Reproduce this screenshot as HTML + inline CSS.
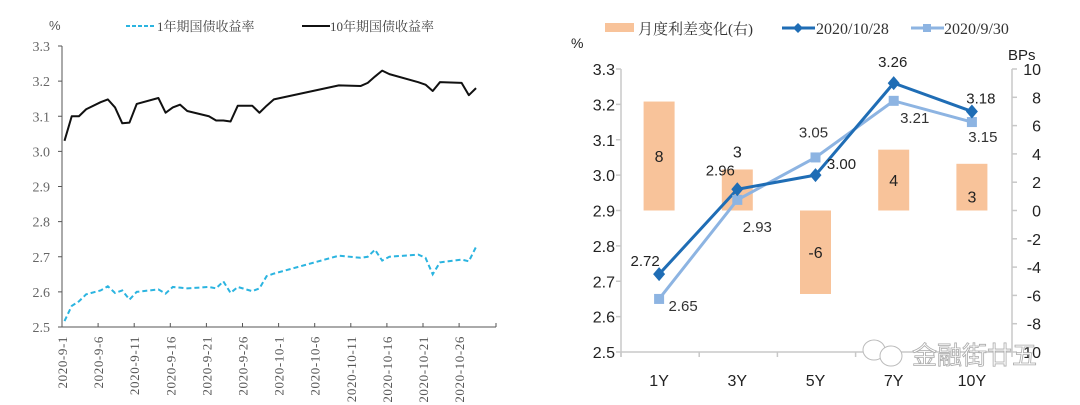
<!DOCTYPE html>
<html><head><meta charset="utf-8">
<style>
html,body{margin:0;padding:0;background:#fff;}
svg{display:block;}
</style></head>
<body>
<svg id="chart" width="1080" height="405" xmlns="http://www.w3.org/2000/svg">
<g id="left"></g>
<g id="right"></g>
</svg>
<script>
// ===== Left chart data =====
const leftDays = [0,1,2,3,5,6,7,8,9,10,13,14,15,16,17,20,21,22,23,24,26,27,28,29,38,41,42,43,44,45,49,50,51,52,55,56,57];
const yield10Y = [3.03,3.10,3.10,3.12,3.14,3.148,3.125,3.08,3.082,3.135,3.152,3.11,3.125,3.133,3.115,3.10,3.088,3.088,3.085,3.13,3.13,3.11,3.13,3.148,3.188,3.186,3.195,3.213,3.23,3.22,3.197,3.19,3.172,3.197,3.195,3.16,3.18];
const yield1Y = [2.517,2.56,2.573,2.593,2.604,2.616,2.597,2.604,2.578,2.600,2.607,2.595,2.614,2.612,2.61,2.614,2.61,2.63,2.597,2.614,2.602,2.61,2.645,2.652,2.703,2.697,2.70,2.72,2.689,2.70,2.706,2.697,2.65,2.684,2.692,2.687,2.728];
const leftYTicks = [2.5,2.6,2.7,2.8,2.9,3.0,3.1,3.2,3.3];
const leftDateLabels = ["2020-9-1","2020-9-6","2020-9-11","2020-9-16","2020-9-21","2020-9-26","2020-10-1","2020-10-6","2020-10-11","2020-10-16","2020-10-21","2020-10-26"];

// ===== Right chart data =====
const tenors = ["1Y","3Y","5Y","7Y","10Y"];
const curve1028 = [2.72,2.96,3.00,3.26,3.18];
const curve0930 = [2.65,2.93,3.05,3.21,3.15];
const spreadChange = [7.7,2.9,-5.9,4.3,3.3];
const spreadLabels = ["8","3","-6","4","3"];
const rightYTicks = [2.5,2.6,2.7,2.8,2.9,3.0,3.1,3.2,3.3];
const rightY2Ticks = [-10,-8,-6,-4,-2,0,2,4,6,8,10];

const NS = "http://www.w3.org/2000/svg";
function mk(parent, tag, attrs, text){
  const e = document.createElementNS(NS, tag);
  for (const k in attrs) e.setAttribute(k, attrs[k]);
  if (text !== undefined) e.textContent = text;
  parent.appendChild(e);
  return e;
}

// ---------- LEFT ----------
(function(){
  const g = document.getElementById('left');
  const X0 = 62, X1 = 496, YT = 46, YB = 327;
  const dayW = 7.22;
  const xd = d => X0 + 2.5 + d * dayW;
  const yv = v => YB - (v - 2.5) / 0.8 * (YB - YT);
  const serif = '"Liberation Serif","Noto Serif CJK SC",serif';

  let e = mk(g,'line',{x1:X0,y1:YT,x2:X0,y2:YB,stroke:'#555','stroke-width':1});
   
  e = mk(g,'line',{x1:X0,y1:YB,x2:X1,y2:YB,stroke:'#555','stroke-width':1});
   

  leftYTicks.forEach(v=>{
    const t = mk(g,'text',{x:X0-12,y:yv(v)+5,'text-anchor':'end','font-family':serif,'font-size':14,fill:'#666'}, v.toFixed(1));
     
    const tk = mk(g,'line',{x1:X0-4,y1:yv(v),x2:X0,y2:yv(v),stroke:'#555'});
     
  });
  leftDateLabels.forEach((s,i)=>{
    const x = X0 + i*5*dayW;
    const tk = mk(g,'line',{x1:x,y1:YB,x2:x,y2:YB-4,stroke:'#555'});
     
    const t = mk(g,'text',{x:0,y:0,transform:`translate(${x+5},336) rotate(-90)`,'text-anchor':'end','font-family':serif,'font-size':13,fill:'#555','letter-spacing':'0.6'}, s);
     
  });
  const tkEnd = mk(g,'line',{x1:X1,y1:YB,x2:X1,y2:YB-4,stroke:'#555'});
   

  const p10 = leftDays.map((d,i)=>xd(d)+','+yv(yield10Y[i])).join(' ');
  e = mk(g,'polyline',{points:p10,fill:'none',stroke:'#111','stroke-width':2,'stroke-linejoin':'round'});
   
  const p1 = leftDays.map((d,i)=>xd(d)+','+yv(yield1Y[i])).join(' ');
  e = mk(g,'polyline',{points:p1,fill:'none',stroke:'#2bb4e0','stroke-width':2,'stroke-dasharray':'5,3'});
   

  e = mk(g,'text',{x:49,y:30,'font-family':'"Liberation Sans",sans-serif','font-size':13,fill:'#555'},'%');
   
  e = mk(g,'line',{x1:126,y1:26,x2:156,y2:26,stroke:'#2bb4e0','stroke-width':2,'stroke-dasharray':'4,2'});
   
  e = mk(g,'text',{x:157,y:31,'font-family':serif,'font-size':13,fill:'#444'},'1年期国债收益率');
   
  e = mk(g,'line',{x1:302,y1:26,x2:330,y2:26,stroke:'#111','stroke-width':2});
   
  e = mk(g,'text',{x:330,y:31,'font-family':serif,'font-size':13,fill:'#444'},'10年期国债收益率');
   
})();

// ---------- RIGHT ----------
(function(){
  const g = document.getElementById('right');
  const XL = 621, XR = 1012, YT = 69, YB = 352;
  const bandW = (XR - XL) / tenors.length;
  const xc = i => XL + bandW*(i+0.5) - 1;
  const yv = v => YB - (v - 2.5) / 0.8 * (YB - YT);
  const y2 = v => YB - (v + 10) / 20 * (YB - YT);
  const sans = '"Liberation Sans","Noto Sans CJK SC",sans-serif';
  const serif = '"Liberation Serif","Noto Serif CJK SC",serif';
  const axisC = '#c8c8c8';

  let e = mk(g,'line',{x1:XL,y1:YT,x2:XL,y2:YB+5,stroke:axisC,'stroke-width':1.5});
   
  e = mk(g,'line',{x1:XR,y1:YT,x2:XR,y2:YB,stroke:axisC,'stroke-width':1.5});
   
  e = mk(g,'line',{x1:XL,y1:YB,x2:XR,y2:YB,stroke:axisC,'stroke-width':1.5});
   

  rightYTicks.forEach(v=>{
    const tk = mk(g,'line',{x1:XL-5,y1:yv(v),x2:XL,y2:yv(v),stroke:axisC,'stroke-width':1.5});
     
    const t = mk(g,'text',{x:XL-6,y:yv(v)+6,'text-anchor':'end','font-family':sans,'font-size':16,fill:'#222'}, v.toFixed(1));
     
  });
  rightY2Ticks.forEach(v=>{
    const tk = mk(g,'line',{x1:XR,y1:y2(v),x2:XR+5,y2:y2(v),stroke:axisC,'stroke-width':1.5});
     
    const t = mk(g,'text',{x:XR+29,y:y2(v)+6,'text-anchor':'end','font-family':sans,'font-size':16,fill:'#222'}, String(v));
     
  });
  for (let i=0;i<=tenors.length;i++){
    const tk = mk(g,'line',{x1:XL+bandW*i,y1:YB,x2:XL+bandW*i,y2:YB+5,stroke:axisC,'stroke-width':1.5});
     
  }
  tenors.forEach((s,i)=>{
    const t = mk(g,'text',{x:xc(i),y:386,'text-anchor':'middle','font-family':sans,'font-size':16,fill:'#222'}, s);
     
  });

  spreadChange.forEach((v,i)=>{
    const top = Math.min(y2(v), y2(0)), h = Math.abs(y2(v)-y2(0));
    const b = mk(g,'rect',{x:xc(i)-15.5,y:top,width:31,height:h,fill:'#f8c39a'});
     
  });
  spreadChange.forEach((v,i)=>{
    let y;
    if (i===1) y = y2(v) - 12;
    else if (i===4) y = y2(0) - 8;
    else y = (y2(v)+y2(0))/2 + 6;
    const t = mk(g,'text',{x:xc(i),y:y,'text-anchor':'middle','font-family':sans,'font-size':16,fill:'#222'}, spreadLabels[i]);
     
  });

  let p = curve0930.map((v,i)=>xc(i)+','+yv(v)).join(' ');
  e = mk(g,'polyline',{points:p,fill:'none',stroke:'#8db4e2','stroke-width':3});
   
  p = curve1028.map((v,i)=>xc(i)+','+yv(v)).join(' ');
  e = mk(g,'polyline',{points:p,fill:'none',stroke:'#1f6db5','stroke-width':3});
   
  curve0930.forEach((v,i)=>{
    const m = mk(g,'rect',{x:xc(i)-5,y:yv(v)-5,width:10,height:10,fill:'#8db4e2'});
     
  });
  curve1028.forEach((v,i)=>{
    const x=xc(i), y=yv(v);
    const m = mk(g,'polygon',{points:`${x},${y-7} ${x+6},${y} ${x},${y+7} ${x-6},${y}`,fill:'#1f6db5'});
     
  });
  const off1028 = [[-14,-14],[-17,-20],[26,-12],[-1,-22],[9,-14]];
  const off0930 = [[24,6],[20,26],[-2,-26],[21,16],[11,14]];
  curve1028.forEach((v,i)=>{
    const t = mk(g,'text',{x:xc(i)+off1028[i][0],y:yv(v)+off1028[i][1]+6,'text-anchor':'middle','font-family':sans,'font-size':15,fill:'#222'}, v.toFixed(2));
     
  });
  curve0930.forEach((v,i)=>{
    const t = mk(g,'text',{x:xc(i)+off0930[i][0],y:yv(v)+off0930[i][1]+6,'text-anchor':'middle','font-family':sans,'font-size':15,fill:'#333'}, v.toFixed(2));
     
  });

  e = mk(g,'text',{x:571,y:48,'font-family':sans,'font-size':14,fill:'#222'},'%');
   
  e = mk(g,'text',{x:1008,y:60,'font-family':sans,'font-size':15,fill:'#222'},'BPs');
   

  e = mk(g,'rect',{x:605,y:23,width:29,height:9,fill:'#f8c39a'});
   
  e = mk(g,'text',{x:638,y:34,'font-family':serif,'font-size':15,fill:'#333'},'月度利差变化(右)');
   
  e = mk(g,'line',{x1:782,y1:28,x2:815,y2:28,stroke:'#1f6db5','stroke-width':3});
   
  e = mk(g,'polygon',{points:'798,23 803,28 798,33 793,28',fill:'#1f6db5'});
   
  e = mk(g,'text',{x:816,y:34,'font-family':serif,'font-size':16,fill:'#333'},'2020/10/28');
   
  e = mk(g,'line',{x1:911,y1:28,x2:944,y2:28,stroke:'#8db4e2','stroke-width':3});
   
  e = mk(g,'rect',{x:923,y:24,width:8,height:8,fill:'#8db4e2'});
   
  e = mk(g,'text',{x:944,y:34,'font-family':serif,'font-size':16,fill:'#333'},'2020/9/30');
   

  e = mk(g,'ellipse',{cx:874,cy:350,rx:11,ry:10,fill:'#fff',stroke:'#bbb','stroke-width':1});
   
  e = mk(g,'ellipse',{cx:891,cy:356,rx:11,ry:10,fill:'#fff',stroke:'#bbb','stroke-width':1});
   
  e = mk(g,'text',{x:912,y:364,'font-family':'"Noto Sans CJK SC",sans-serif','font-size':25,fill:'#fff',stroke:'#aaa','stroke-width':0.8},'金融街廿五');
   
})();
</script>
</body></html>
